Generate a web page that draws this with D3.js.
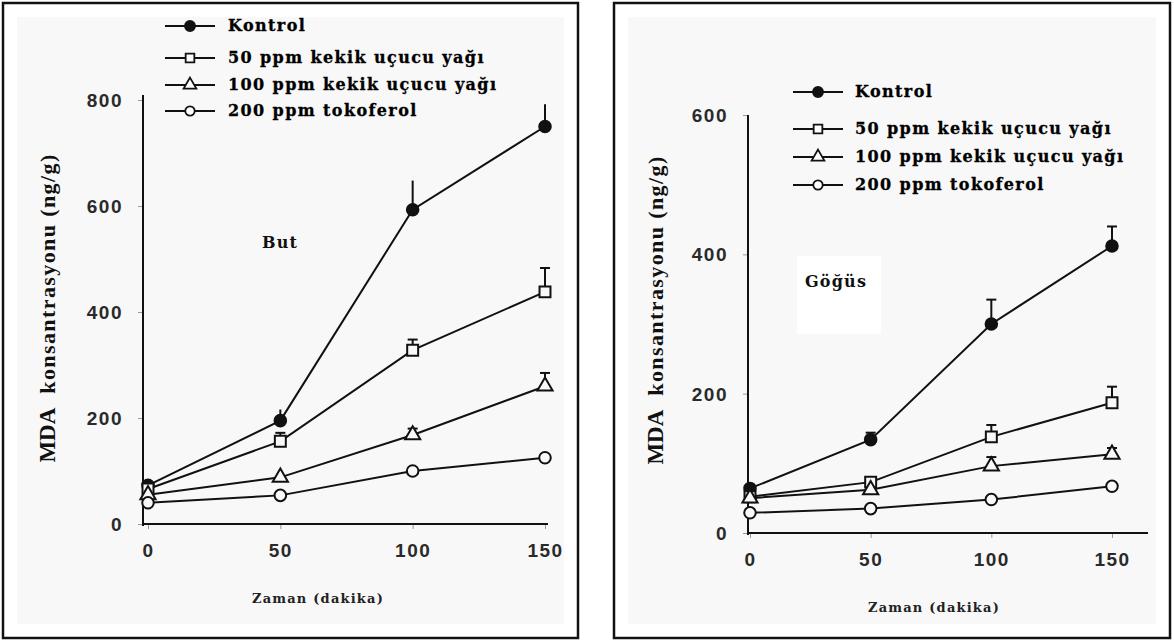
<!DOCTYPE html>
<html>
<head>
<meta charset="utf-8">
<script src="https://cdn.jsdelivr.net/npm/d3@7"></script>
<style>
body { margin: 0; background: #fff; }
svg { display: block; }
</style>
</head>
<body>
<svg id="chart" width="1174" height="642"></svg>
<script>
var times = [0, 50, 100, 150];
var seriesNames = ["Kontrol", "50 ppm kekik uçucu yağı", "100 ppm kekik uçucu yağı", "200 ppm tokoferol"];
var xTicks = [0, 50, 100, 150];
var butTicks = [0, 200, 400, 600, 800];
var gogusTicks = [0, 200, 400, 600];
var xTitle = "Zaman (dakika)";
var yTitleA = "MDA";
var yTitleB = "konsantrasyonu (ng/g)";

//but panel values
var butKontrol = [73, 195, 593, 750];
var butKontrolErr = [0, 21, 55, 42];
var but50 = [66, 156, 328, 438];
var but50Err = [0, 16, 20, 45];
var but100 = [55, 88, 168, 260];
var but100Err = [0, 0, 12, 25];
var but200 = [40, 54, 100, 125];
var but200Err = [0, 0, 0, 4];

//göğüs panel values
var gogusKontrol = [64, 134, 300, 412];
var gogusKontrolErr = [0, 10, 35, 28];
var gogus50 = [52, 73, 138, 187];
var gogus50Err = [0, 0, 17, 23];
var gogus100 = [50, 62, 96, 113];
var gogus100Err = [0, 0, 13, 9];
var gogus200 = [29, 35, 48, 67];
var gogus200Err = [0, 0, 0, 0];

var svg = d3.select("#chart");

var symbolTypes = [d3.symbolCircle, d3.symbolSquare, d3.symbolTriangle, d3.symbolCircle];
var symbolSizes = [105, 120, 100, 105];
var legendSizes = [80, 75, 70, 70];
var bg = "#f8f8f8";

function drawPanel(cfg) {
	var g = svg.append("g");

	//frame
	g.append("rect")
		.attr("x", cfg.frame[0]).attr("y", cfg.frame[1])
		.attr("width", cfg.frame[2]).attr("height", cfg.frame[3])
		.attr("fill", "#fff")
		.attr("stroke", "#111")
		.attr("stroke-width", 2.5);
	g.append("rect")
		.attr("x", cfg.frame[0] + 14).attr("y", cfg.frame[1] + 14)
		.attr("width", cfg.frame[2] - 28).attr("height", cfg.frame[3] - 28)
		.attr("fill", bg);

	if (cfg.labelBox) {
		g.append("rect")
			.attr("x", cfg.labelBox[0]).attr("y", cfg.labelBox[1])
			.attr("width", cfg.labelBox[2]).attr("height", cfg.labelBox[3])
			.attr("fill", "#fff");
	}

	var x = d3.scaleLinear().domain([0, 150]).range(cfg.xRange);
	var y = d3.scaleLinear().domain([0, cfg.yMax]).range(cfg.yRange);

	//axes
	var yAxis = g.append("g")
		.attr("transform", "translate(" + cfg.axisX + ",0)")
		.call(d3.axisLeft(y).tickValues(cfg.yTicks).tickSize(5).tickSizeOuter(0).tickPadding(15));
	var xAxis = g.append("g")
		.attr("transform", "translate(0," + cfg.yRange[0] + ")")
		.call(d3.axisBottom(x).tickValues(xTicks).tickSize(5).tickSizeOuter(0).tickPadding(15));

	[yAxis, xAxis].forEach(function (a) {
		a.select(".domain").remove();
		a.selectAll(".tick line").attr("stroke", "#999").attr("stroke-width", 1);
		a.selectAll(".tick text")
			.attr("fill", "#2a2a2a")
			.attr("font-family", "'Liberation Sans', Arial, sans-serif")
			.attr("font-weight", "bold")
			.attr("font-size", 19)
			.attr("letter-spacing", 1.5);
	});
	yAxis.selectAll(".tick text").attr("dy", "0.35em");

	g.append("line")
		.attr("x1", cfg.axisX).attr("x2", cfg.axisX)
		.attr("y1", y(cfg.yMax) - cfg.yOver).attr("y2", cfg.yRange[0] + 2)
		.attr("stroke", "#111").attr("stroke-width", 2);
	g.append("line")
		.attr("x1", cfg.axisX).attr("x2", cfg.xAxisEnd)
		.attr("y1", cfg.yRange[0]).attr("y2", cfg.yRange[0])
		.attr("stroke", "#111").attr("stroke-width", 2);

	//axis titles
	g.append("text")
		.attr("x", cfg.xTitlePos[0]).attr("y", cfg.xTitlePos[1])
		.attr("text-anchor", "middle")
		.attr("font-family", "'DejaVu Serif', serif")
		.attr("font-weight", "bold")
		.attr("font-size", 13)
		.attr("letter-spacing", 1.2)
		.attr("fill", "#222")
		.text(xTitle);

	var yt = g.append("text")
		.attr("transform", "translate(" + cfg.yTitlePos[0] + "," + cfg.yTitlePos[1] + ") rotate(-90)")
		.attr("text-anchor", "middle")
		.attr("font-family", "'Liberation Serif', 'Times New Roman', serif")
		.attr("font-weight", "bold")
		.attr("fill", "#111");
	yt.append("tspan").attr("font-size", 23).text(yTitleA);
	yt.append("tspan").attr("font-size", 22).attr("dx", 14).attr("letter-spacing", 1.4).text(yTitleB);

	//panel label
	g.append("text")
		.attr("x", cfg.label[1]).attr("y", cfg.label[2])
		.attr("font-family", "'DejaVu Serif', serif")
		.attr("font-weight", "bold")
		.attr("font-size", 16)
		.attr("letter-spacing", 1.2)
		.attr("fill", "#111")
		.text(cfg.label[0]);

	var line = d3.line()
		.x(function (d) { return x(d.t); })
		.y(function (d) { return y(d.v); });

	var data = cfg.series.map(function (s, i) {
		return times.map(function (t, j) {
			return {t: t, v: s[j], e: cfg.errors[i][j], k: i};
		});
	});

	//connecting lines
	data.forEach(function (d) {
		g.append("path")
			.datum(d)
			.attr("d", line)
			.attr("fill", "none")
			.attr("stroke", "#111")
			.attr("stroke-width", 2);
	});

	//one sided error bars
	data.forEach(function (d, i) {
		var bars = d.filter(function (p) { return p.e > 0; });
		g.selectAll(null).data(bars).enter().append("line")
			.attr("x1", function (p) { return x(p.t); })
			.attr("x2", function (p) { return x(p.t); })
			.attr("y1", function (p) { return y(p.v); })
			.attr("y2", function (p) { return y(p.v + p.e); })
			.attr("stroke", "#111").attr("stroke-width", 2);
		if (i > 0 || cfg.kontrolCaps) {
			g.selectAll(null).data(bars).enter().append("line")
				.attr("x1", function (p) { return x(p.t) - 5; })
				.attr("x2", function (p) { return x(p.t) + 5; })
				.attr("y1", function (p) { return y(p.v + p.e); })
				.attr("y2", function (p) { return y(p.v + p.e); })
				.attr("stroke", "#111").attr("stroke-width", 2);
		}
	});

	//markers
	data.forEach(function (d, i) {
		g.selectAll(null).data(d).enter().append("path")
			.attr("d", d3.symbol().type(symbolTypes[i]).size(symbolSizes[i]))
			.attr("transform", function (p) { return "translate(" + x(p.t) + "," + y(p.v) + ")"; })
			.attr("fill", i == 0 ? "#111" : bg)
			.attr("stroke", "#111")
			.attr("stroke-width", 2);
	});

	//legend
	var lg = g.append("g");
	seriesNames.forEach(function (name, i) {
		var ly = cfg.legendY[i];
		var mx = (cfg.legendX[0] + cfg.legendX[1]) / 2;
		lg.append("line")
			.attr("x1", cfg.legendX[0]).attr("x2", cfg.legendX[1])
			.attr("y1", ly).attr("y2", ly)
			.attr("stroke", "#111").attr("stroke-width", 2.2);
		lg.append("path")
			.attr("d", d3.symbol().type(symbolTypes[i]).size(legendSizes[i]))
			.attr("transform", "translate(" + mx + "," + ly + ")")
			.attr("fill", i == 0 ? "#111" : "#fff")
			.attr("stroke", "#111")
			.attr("stroke-width", 1.8);
		lg.append("text")
			.attr("x", cfg.legendX[2]).attr("y", ly + 5)
			.attr("font-family", "'DejaVu Serif', serif")
			.attr("font-weight", "bold")
			.attr("font-size", 16)
			.attr("letter-spacing", 1.4)
			.attr("fill", "#000")
			.attr("stroke", "#000")
			.attr("stroke-width", 0.3)
			.text(name);
	});
}

drawPanel({
	frame: [3, 3, 575, 635],
	xRange: [148, 545],
	yRange: [524, 100],
	yMax: 800,
	yTicks: butTicks,
	yOver: 5,
	axisX: 143,
	xAxisEnd: 548,
	xTitlePos: [318, 603],
	yTitlePos: [55, 308],
	label: ["But", 262, 248],
	series: [butKontrol, but50, but100, but200],
	errors: [butKontrolErr, but50Err, but100Err, but200Err],
	kontrolCaps: false,
	legendX: [165, 215, 228],
	legendY: [26, 58, 85, 111]
});

drawPanel({
	frame: [614, 3, 556, 635],
	xRange: [750, 1112],
	yRange: [533, 115],
	yMax: 600,
	yTicks: gogusTicks,
	yOver: 0,
	axisX: 748,
	xAxisEnd: 1148,
	xTitlePos: [934, 612],
	yTitlePos: [663, 310],
	label: ["Göğüs", 805, 287],
	labelBox: [797, 256, 84, 78],
	series: [gogusKontrol, gogus50, gogus100, gogus200],
	errors: [gogusKontrolErr, gogus50Err, gogus100Err, gogus200Err],
	kontrolCaps: true,
	legendX: [793, 843, 855],
	legendY: [92, 129, 157, 185]
});
</script>
</body>
</html>
